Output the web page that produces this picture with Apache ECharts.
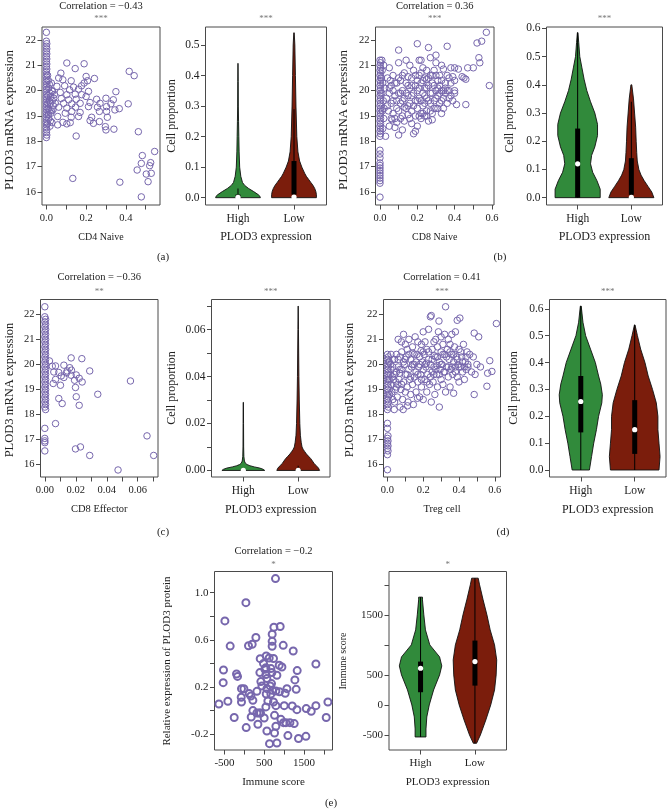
<!DOCTYPE html>
<html><head><meta charset="utf-8">
<script src="https://cdn.jsdelivr.net/npm/echarts@6/dist/echarts.min.js"></script>
<style>html,body{margin:0;padding:0;background:#fff}#c{width:668px;height:809px}</style>
</head><body><div id="c"></div>
<script>
// ---------------- DATA ----------------
const groups = ['High', 'Low'];

const cd4NaivePts = [
[0,22.3],[0,21.95],[0.002,21.85],[0,21.75],[0.002,21.65],[0,21.55],[0.002,21.45],[0,21.35],[0.002,21.25],[0,21.15],[0.002,21.05],[0,20.95],[0.002,20.85],[0,20.75],[0.002,20.65],[0,20.55],[0.002,20.45],[0,20.35],[0.002,20.25],[0,20.15],[0.002,20.05],[0,19.95],[0.002,19.85],[0,19.75],[0.002,19.65],[0,19.55],[0.002,19.45],[0,19.35],[0.002,19.25],[0,19.15],[0.002,19.05],[0,18.95],[0.002,18.85],[0,18.75],[0.002,18.65],[0,18.55],[0.002,18.45],[0,18.35],[0.002,18.25],[0,18.15],
[0.01,20.4],[0.012,20.1],[0.008,19.8],[0.015,19.6],[0.01,19.3],[0.02,19.5],[0.018,19.9],[0.025,19.2],[0.012,18.9],[0.02,18.8],[0.03,19.6],[0.028,20.0],[0.01,19.05],[0.006,18.7],[0.015,20.25],[0.022,19.75],[0.035,19.4],[0.04,19.85],[0.018,18.6],[0.008,19.5],[0.014,19.2],[0.025,20.3],[0.006,20.6],
[0.103,21.09],[0.19,21.06],[0.145,20.87],[0.073,20.69],[0.062,20.5],[0.083,20.43],[0.125,20.39],[0.2,20.56],[0.242,20.48],[0.207,20.39],[0.19,20.3],[0.053,20.17],[0.092,20.19],[0.137,20.14],[0.177,20.19],[0.162,20.06],[0.117,20.03],[0.212,19.97],[0.35,19.96],[0.032,19.97],[0.07,19.93],[0.103,19.84],[0.145,19.86],[0.178,19.84],[0.037,19.7],[0.075,19.69],[0.112,19.64],[0.15,19.66],[0.2,19.77],[0.253,19.66],[0.3,19.7],[0.337,19.64],[0.045,19.5],[0.087,19.5],[0.128,19.48],[0.17,19.5],[0.22,19.53],[0.27,19.5],[0.325,19.48],[0.412,19.48],[0.062,19.35],[0.103,19.31],[0.147,19.35],[0.212,19.37],[0.257,19.35],[0.303,19.37],[0.345,19.24],[0.367,19.29],[0.033,19.24],[0.128,19.18],[0.095,19.11],[0.17,19.14],[0.267,19.18],[0.303,19.18],[0.023,19.11],[0.228,18.95],[0.307,18.95],[0.057,18.98],[0.162,18.98],[0.125,18.95],[0.22,18.82],[0.267,18.78],[0.028,18.74],[0.083,18.75],[0.12,18.74],[0.237,18.71],[0.057,18.65],[0.103,18.69],[0.297,18.58],[0.3,18.45],[0.34,18.48],[0.15,18.21],
[0.417,20.76],[0.442,20.59],[0.463,18.38],[0.483,17.44],[0.525,17.16],[0.478,17.13],[0.52,17.04],[0.545,17.6],[0.457,16.87],[0.503,16.71],[0.528,16.74],[0.512,16.41],[0.37,16.39],[0.478,15.81],[0.133,16.54]
];

const cd8NaivePts = [
[0,21.2],[0.003,21.1],[0,21.0],[0.003,20.9],[0,20.8],[0.003,20.7],[0,20.6],[0.003,20.5],[0,20.4],[0.003,20.3],[0,20.2],[0.003,20.1],[0,20.0],[0.003,19.9],[0,19.8],[0.003,19.7],[0,19.6],[0.003,19.5],[0,19.4],[0.003,19.3],[0,19.2],[0.003,19.1],[0,19.0],[0.003,18.9],[0,18.8],[0.003,18.7],[0,18.6],[0.003,18.5],[0,18.4],[0.003,18.3],[0,18.2],
[0,17.65],[0,17.5],[0,17.35],[0,17.15],[0,17.05],[0,16.95],[0,16.85],[0,16.75],[0,16.65],[0,16.55],[0,16.45],[0,16.35],[0,15.8],
[0.01,21.2],[0.012,20.8],[0.015,20.3],[0.01,19.9],[0.018,19.6],[0.012,19.2],[0.02,18.9],[0.015,18.5],[0.025,20.1],[0.022,19.3],[0.03,18.2],[0.008,20.5],[0.02,21.0],
[0.04,20.5],[0.05,20.9],[0.05,19.9],[0.06,19.5],[0.06,20.2],[0.07,19.1],[0.07,20.6],[0.08,19.8],[0.08,18.9],[0.09,20.3],[0.09,19.3],[0.1,19.9],[0.1,21.6],[0.1,21.1],[0.1,18.25],[0.05,18.6],[0.08,18.55],[0.035,19.7],[0.045,19.2],[0.065,18.85],[0.09,18.75],[0.07,20.0],[0.055,20.4],
[0.11,19.5],[0.11,20.4],[0.12,19.0],[0.12,20.0],[0.12,18.45],[0.13,19.7],[0.13,20.7],[0.14,19.3],[0.14,21.2],[0.14,20.3],[0.15,19.8],[0.15,19.05],[0.16,20.1],[0.16,21.0],[0.16,19.5],[0.17,18.7],[0.17,20.5],[0.17,19.2],[0.18,19.9],[0.18,18.3],[0.18,20.8],[0.19,19.6],[0.19,18.4],[0.19,20.2],[0.2,21.85],[0.2,19.3],[0.2,20.0],[0.2,18.6],[0.13,19.35],[0.15,20.55],[0.11,18.9],
[0.21,21.2],[0.21,20.6],[0.21,19.7],[0.22,21.2],[0.22,19.1],[0.22,20.3],[0.23,19.9],[0.23,20.9],[0.23,19.4],[0.24,20.1],[0.24,19.0],[0.24,20.5],[0.25,19.7],[0.25,20.8],[0.25,19.2],[0.26,21.7],[0.26,20.2],[0.26,18.8],[0.27,21.3],[0.27,19.5],[0.27,20.6],[0.28,19.9],[0.28,19.1],[0.28,20.3],[0.29,20.8],[0.29,19.6],[0.3,21.1],[0.3,21.4],[0.3,20.0],[0.3,19.3],[0.22,18.9],[0.25,20.45],[0.28,18.85],
[0.31,19.8],[0.31,20.4],[0.32,19.5],[0.32,20.6],[0.33,21.0],[0.33,20.0],[0.33,19.1],[0.34,20.85],[0.34,19.7],[0.35,20.3],[0.35,19.9],[0.36,21.75],[0.36,19.5],[0.37,20.5],[0.37,20.0],[0.38,20.9],[0.38,19.8],[0.39,20.55],[0.4,20.9],[0.4,20.0],[0.41,19.45],[0.42,20.85],[0.39,19.6],[0.35,20.1],
[0.04,19.4],[0.05,20.1],[0.06,18.9],[0.07,19.6],[0.08,20.3],[0.09,19.6],[0.1,20.5],[0.1,19.2],[0.11,19.9],[0.12,20.6],[0.12,19.6],[0.13,18.8],[0.14,19.9],[0.15,20.2],[0.15,19.4],[0.16,18.9],[0.17,19.8],[0.17,20.2],[0.18,19.4],[0.19,19.0],[0.19,20.6],[0.2,19.6],[0.2,20.4],[0.21,19.0],[0.21,20.1],[0.22,19.6],[0.22,20.7],[0.23,19.1],[0.23,20.4],[0.24,19.5],[0.24,19.8],[0.25,20.1],[0.25,19.0],[0.26,19.6],[0.26,20.5],[0.27,19.9],[0.27,19.2],[0.28,20.6],[0.29,19.3],[0.29,20.2],[0.3,19.7],[0.3,20.6],[0.31,19.3],[0.31,20.1],[0.32,19.9],[0.32,20.2],[0.33,19.6],[0.33,20.4],[0.34,20.0],[0.34,19.3],[0.36,20.0],[0.36,20.6],[0.37,19.7],[0.38,20.3],[0.4,19.9],[0.4,20.4],
[0.44,20.55],[0.45,20.5],[0.46,20.45],[0.47,20.9],[0.5,20.9],[0.53,21.3],[0.535,21.1],[0.52,21.88],[0.545,21.95],[0.57,22.3],[0.586,20.2],[0.46,19.45]
];

const cd8EffectorPts = [
[0,22.3],[0,21.9],[0.0005,21.8],[0,21.7],[0.0005,21.6],[0,21.5],[0.0005,21.4],[0,21.3],[0.0005,21.2],[0,21.1],[0.0005,21.0],[0,20.9],[0.0005,20.8],[0,20.7],[0.0005,20.6],[0,20.5],[0.0005,20.4],[0,20.3],[0.0005,20.2],[0,20.1],[0.0005,20.0],[0,19.9],[0.0005,19.8],[0,19.7],[0.0005,19.6],[0,19.5],[0.0005,19.4],[0,19.3],[0.0005,19.2],[0,19.1],[0.0005,19.0],[0,18.9],[0.0005,18.8],[0,18.7],[0.0005,18.6],[0,18.5],[0.0005,18.4],[0,18.3],[0.0005,18.2],
[0,17.45],[0,17.05],[0,16.95],[0,16.88],[0,16.55],
[0.003,20.14],[0.0048,19.93],[0.0123,19.97],[0.0161,19.87],[0.0069,19.94],[0.0058,19.7],[0.009,19.68],[0.0106,19.54],[0.0123,19.48],[0.0069,19.4],[0.0054,19.24],[0.0101,19.17],[0.0172,19.77],[0.0144,19.74],[0.017,19.57],[0.0222,19.45],[0.0192,19.37],[0.0241,19.3],[0.0203,19.58],[0.009,18.64],[0.0112,18.44],[0.0069,17.64],[0.017,20.26],[0.0239,20.23],[0.029,19.74],[0.0198,19.08],[0.0203,18.71],[0.0222,18.37],[0.0342,18.81],[0.0553,19.34],[0.0198,16.63],[0.023,16.71],[0.029,16.37],[0.0473,15.79],[0.066,17.15],[0.0703,16.37],[0.014,19.66]
];

const tregPts = [
[0,20.4],[0.005,20.3],[0,20.2],[0.005,20.1],[0,20.0],[0.005,19.9],[0,19.8],[0.005,19.7],[0,19.6],[0.005,19.5],[0,19.4],[0.005,19.3],[0,19.2],[0.005,19.1],[0,19.0],[0.005,18.9],[0,18.8],[0.005,18.7],[0,18.6],[0.005,18.5],[0,18.4],[0.005,18.3],[0,18.2],
[0,17.65],[0,17.45],[0.003,17.15],[0,17.05],[0.003,16.95],[0,16.85],[0.003,16.75],[0,16.65],[0.003,16.55],[0,16.4],[0,15.8],
[0.01,20.1],[0.015,19.6],[0.02,19.2],[0.02,20.4],[0.025,18.9],[0.03,19.9],[0.03,18.6],[0.035,19.4],[0.04,20.2],[0.04,18.5],[0.045,19.0],[0.05,19.7],[0.05,20.4],[0.012,18.8],[0.018,20.0],[0.028,19.5],[0.038,18.2],[0.048,19.3],
[0.055,18.7],[0.06,19.9],[0.06,21.0],[0.065,19.4],[0.07,20.3],[0.07,18.3],[0.075,19.0],[0.08,19.8],[0.08,20.5],[0.085,18.6],[0.09,19.3],[0.09,21.2],[0.095,20.0],[0.1,19.6],[0.1,18.9],[0.1,20.8],[0.058,19.2],[0.078,20.9],[0.088,18.2],[0.068,19.65],
[0.105,20.3],[0.11,19.1],[0.11,20.6],[0.115,18.5],[0.12,19.8],[0.12,21.0],[0.125,19.4],[0.13,20.2],[0.13,18.8],[0.135,19.9],[0.14,20.7],[0.14,19.2],[0.145,18.4],[0.15,20.0],[0.15,19.5],[0.155,21.1],[0.16,19.7],[0.16,18.9],[0.165,20.4],[0.17,19.3],[0.17,20.9],[0.175,19.9],[0.18,18.7],[0.18,20.3],[0.185,19.6],[0.19,20.8],[0.19,19.1],[0.195,20.1],[0.2,19.8],[0.2,18.6],[0.2,21.3],[0.112,18.35],[0.142,20.45],[0.168,18.65],[0.188,20.55],
[0.205,20.4],[0.21,19.4],[0.21,20.9],[0.215,19.9],[0.22,18.9],[0.22,20.6],[0.225,19.6],[0.23,20.2],[0.23,21.4],[0.235,19.2],[0.24,20.0],[0.24,21.9],[0.245,21.95],[0.245,18.5],[0.25,19.7],[0.25,20.6],[0.255,19.3],[0.26,20.9],[0.26,19.9],[0.265,18.8],[0.27,20.3],[0.27,21.0],[0.275,19.6],[0.28,20.7],[0.28,19.1],[0.285,21.3],[0.288,21.73],[0.29,20.1],[0.29,18.3],[0.295,19.8],[0.3,20.5],[0.3,19.4],[0.3,21.1],[0.218,20.05],[0.262,20.35],[0.278,19.95],
[0.305,20.0],[0.31,19.2],[0.31,20.8],[0.315,19.7],[0.32,20.4],[0.32,21.2],[0.325,22.3],[0.325,18.9],[0.33,19.9],[0.335,20.6],[0.34,19.5],[0.34,21.0],[0.345,20.2],[0.35,19.1],[0.35,20.8],[0.355,19.8],[0.36,20.4],[0.36,21.2],[0.365,19.6],[0.37,20.1],[0.37,18.85],[0.375,20.7],[0.38,19.9],[0.38,21.3],[0.385,20.3],[0.39,21.76],[0.39,19.5],[0.395,20.0],[0.4,20.6],[0.4,19.3],[0.405,21.85],[0.41,19.9],[0.415,20.3],[0.42,19.7],[0.425,20.8],[0.43,19.4],[0.435,20.1],[0.44,19.8],[0.445,20.5],[0.45,19.9],
[0.01,19.4],[0.02,19.8],[0.03,20.2],[0.04,19.6],[0.05,19.1],[0.06,20.2],[0.07,19.8],[0.08,19.2],[0.09,20.1],[0.1,20.2],[0.11,19.6],[0.12,20.4],[0.13,19.5],[0.14,20.0],[0.15,20.4],[0.16,20.1],[0.17,19.6],[0.18,20.0],[0.19,19.4],[0.2,20.5],[0.21,20.0],[0.22,19.3],[0.23,20.5],[0.24,19.5],[0.25,20.2],[0.26,19.6],[0.27,19.8],[0.28,20.3],[0.29,19.6],[0.3,20.0],[0.31,20.4],[0.32,19.7],[0.33,20.3],[0.34,19.9],[0.35,20.5],[0.36,19.9],[0.37,20.4],[0.38,19.7],[0.39,20.2],[0.4,19.9],[0.41,20.5],[0.42,20.1],[0.43,19.9],[0.44,20.3],[0.45,20.0],
[0.46,20.4],[0.47,19.7],[0.485,21.25],[0.51,21.1],[0.48,20.3],[0.5,20.0],[0.49,19.6],[0.52,19.9],[0.485,18.8],[0.556,19.13],[0.56,19.65],[0.584,19.72],[0.572,20.15],[0.609,21.63]
];

const immunePts = [
[781,1.119],[38,0.915],[-490,0.76],[-357,0.547],[103,0.55],[196,0.562],[289,0.62],[698,0.647],[741,0.706],[899,0.713],[697,0.587],[697,0.545],[975,0.553],[1226,0.505],[1796,0.395],[397,0.44],[548,0.463],[480,0.40],[623,0.446],[731,0.442],[874,0.384],[942,0.37],[540,0.364],[666,0.356],[691,0.322],[540,0.305],[414,0.246],[565,0.271],[648,0.209],[791,0.166],[882,0.16],[1025,0.147],[1068,0.186],[1301,0.18],[1268,0.26],[1326,0.339],[548,0.141],[565,0.186],[314,0.163],[121,0.144],[-73,0.186],[-13,0.186],[-198,0.31],[-173,0.29],[-525,0.344],[-533,0.237],[-80,0.113],[-73,0.073],[-641,0.056],[-415,0.079],[-256,-0.059],[45,-0.144],[171,-0.054],[213,0.0],[314,-0.02],[339,-0.116],[405,-0.02],[497,-0.063],[540,0.031],[590,0.081],[731,0.073],[791,0.042],[1000,0.042],[1201,0.04],[1319,0.008],[757,-0.04],[917,-0.074],[1042,-0.102],[1143,-0.102],[1251,-0.11],[565,-0.173],[631,-0.28],[816,-0.275],[1093,-0.212],[1359,-0.237],[1545,-0.218],[1553,0.017],[1679,-0.006],[1796,0.042],[2055,-0.059],[2098,0.073],[757,-0.19],[791,-0.133],[983,-0.102],[163,0.124],[213,0.087],[681,0.229],[816,0.3],[440,0.209],[389,0.322],[514,0.35],[706,0.172],[665,0.141],[370,-0.02]
];

// violin density profiles: [value, half-width in group units]
const cd4NaiveHighDens = [[0,0.40],[0.005,0.39],[0.01,0.36],[0.02,0.28],[0.03,0.19],[0.04,0.12],[0.05,0.08],[0.07,0.05],[0.1,0.03],[0.15,0.02],[0.2,0.015],[0.25,0.01],[0.3,0.006],[0.38,0.004],[0.44,0.001]];
const cd4NaiveLowDens = [[0,0.40],[0.01,0.40],[0.02,0.39],[0.03,0.37],[0.04,0.34],[0.05,0.30],[0.06,0.26],[0.07,0.22],[0.08,0.19],[0.1,0.14],[0.12,0.1],[0.15,0.07],[0.2,0.05],[0.3,0.035],[0.4,0.025],[0.5,0.015],[0.54,0.004]];
const cd8NaiveHighDens = [[0,0.42],[0.03,0.42],[0.06,0.36],[0.09,0.28],[0.12,0.24],[0.15,0.26],[0.18,0.32],[0.22,0.37],[0.26,0.37],[0.3,0.32],[0.34,0.24],[0.38,0.17],[0.42,0.12],[0.46,0.08],[0.5,0.04],[0.55,0.02],[0.585,0.005]];
const cd8NaiveLowDens = [[0,0.42],[0.02,0.38],[0.04,0.31],[0.06,0.24],[0.08,0.18],[0.1,0.14],[0.13,0.11],[0.16,0.1],[0.2,0.09],[0.25,0.08],[0.3,0.06],[0.35,0.04],[0.4,0.008]];
const cd8EffHighDens = [[0,0.39],[0.0005,0.36],[0.001,0.3],[0.0015,0.2],[0.002,0.12],[0.0025,0.07],[0.003,0.04],[0.004,0.02],[0.006,0.01],[0.01,0.006],[0.02,0.004],[0.029,0.002]];
const cd8EffLowDens = [[0,0.39],[0.001,0.37],[0.002,0.33],[0.003,0.29],[0.004,0.26],[0.005,0.23],[0.006,0.19],[0.007,0.15],[0.008,0.12],[0.009,0.09],[0.01,0.07],[0.012,0.055],[0.015,0.04],[0.02,0.03],[0.03,0.02],[0.04,0.013],[0.05,0.009],[0.06,0.005],[0.07,0.001]];
const tregHighDens = [[0,0.16],[0.05,0.2],[0.1,0.24],[0.15,0.29],[0.2,0.33],[0.25,0.39],[0.28,0.4],[0.32,0.37],[0.35,0.33],[0.4,0.27],[0.45,0.18],[0.5,0.09],[0.55,0.04],[0.61,0.008]];
const tregLowDens = [[0,0.45],[0.05,0.47],[0.1,0.45],[0.15,0.43],[0.2,0.43],[0.25,0.4],[0.3,0.33],[0.35,0.25],[0.4,0.19],[0.45,0.11],[0.5,0.05],[0.54,0.005]];
const immuneHighDens = [[-533,0.1],[-400,0.1],[-200,0.115],[0,0.16],[250,0.24],[500,0.35],[650,0.39],[800,0.35],[1000,0.17],[1250,0.09],[1500,0.06],[1750,0.035],[1795,0.035]];
const immuneLowDens = [[-638,0.03],[-500,0.1],[-250,0.2],[0,0.29],[250,0.36],[500,0.39],[750,0.4],[1000,0.36],[1250,0.28],[1500,0.22],[1750,0.15],[2000,0.085],[2111,0.06]];

// box stats: [whisker low, Q1, median, Q3, whisker high]
const cd4NaiveHighBox = [0, 0, 0.001, 0.01, 0.03];
const cd4NaiveLowBox = [0, 0.01, 0.002, 0.12, 0.29];
const cd8NaiveHighBox = [0, 0, 0.12, 0.245, 0.585];
const cd8NaiveLowBox = [0, 0.01, 0.001, 0.14, 0.34];
const cd8EffHighBox = [0, 0, 0, 0.0004, 0.001];
const cd8EffLowBox = [0, 0, 0, 0.0008, 0.002];
const tregHighBox = [0, 0.14, 0.255, 0.35, 0.61];
const tregLowBox = [0, 0.06, 0.15, 0.26, 0.54];
const immuneHighBox = [-533, 212, 611, 722, 1795];
const immuneLowBox = [-638, 322, 722, 1072, 2111];

// tick marks and labels
const tk = {
  aSx: [0,0.1,0.2,0.3,0.4,0.5], aSxL: [0,0.2,0.4],
  mrna: [16,17,18,19,20,21,22],
  bSx: [0,0.1,0.2,0.3,0.4,0.5,0.6], bSxL: [0,0.2,0.4,0.6],
  cSx: [0,0.01,0.02,0.03,0.04,0.05,0.06,0.07], cSxL: [0,0.02,0.04,0.06],
  vA: [0,0.1,0.2,0.3,0.4,0.5],
  vB: [0,0.1,0.2,0.3,0.4,0.5,0.6],
  eSx: [-500,0,500,1000,1500,2000], eSxL: [-500,500,1500],
  eSy: [-0.2,0,0.2,0.4,0.6,0.8,1.0], eSyL: [-0.2,0.2,0.6,1.0],
  eVy: [-500,0,500,1000,1500,2000], eVyL: [-500,0,500,1500]
};

// ---------------- STYLE / LAYOUT ----------------
const FONT = 'Liberation Serif';
const PURPLE = '#7767ad';
const GREEN = '#318a3b';
const RED = '#7b1d0c';
const FRAME = '#4a4a4a';

const grids = [
  {left:42, top:27, width:118, height:178},     // 0 a scatter
  {left:205.5, top:27, width:121, height:178},  // 1 a violin
  {left:375.5, top:27, width:118.5, height:178},// 2 b scatter
  {left:546.5, top:27, width:116, height:178},  // 3 b violin
  {left:40.5, top:299.5, width:117.5, height:177.5}, // 4 c scatter
  {left:211.5, top:299.5, width:118.5, height:177.5},// 5 c violin
  {left:383.5, top:299.5, width:117, height:177.5},  // 6 d scatter
  {left:549.5, top:299.5, width:116.5, height:177.5},// 7 d violin
  {left:214.5, top:571.5, width:118, height:178.5},  // 8 e scatter
  {left:389, top:571.5, width:117.5, height:178.5}   // 9 e violin
].map(g => Object.assign({show:true, borderColor:FRAME, borderWidth:1, backgroundColor:'rgba(0,0,0,0)'}, g));

function fmt(dec) {
  return v => (+v).toFixed(dec);
}
function axis(i, dir, min, max, ticks, labels, formatter, fs) {
  return {
    type:'value', gridIndex:i, min:min, max:max, scale:true,
    axisLine:{show:false, onZero:false},
    splitLine:{show:false},
    axisTick:{show:true, inside:false, length:4.5, customValues:ticks, lineStyle:{color:FRAME, width:1}},
    axisLabel:{show:true, customValues:labels, formatter:formatter, margin: dir === 'x' ? 8 : 6,
      fontFamily:FONT, fontSize:fs, color:'#222'}
  };
}
const groupFmt = v => groups[Math.round(v) - 1] || '';
const SF = 10.5, VF = 11.5, EF = 11;
const xAxes = [
  axis(0,'x',-0.022,0.572,tk.aSx,tk.aSxL,fmt(1),SF),
  axis(1,'x',0.42,2.58,[1,2],[1,2],groupFmt,VF),
  axis(2,'x',-0.024,0.611,tk.bSx,tk.bSxL,fmt(1),SF),
  axis(3,'x',0.42,2.58,[1,2],[1,2],groupFmt,VF),
  axis(4,'x',-0.0028,0.0731,tk.cSx,tk.cSxL,fmt(2),SF),
  axis(5,'x',0.42,2.58,[1,2],[1,2],groupFmt,VF),
  axis(6,'x',-0.022,0.632,tk.bSx,tk.bSxL,fmt(1),SF),
  axis(7,'x',0.42,2.58,[1,2],[1,2],groupFmt,VF),
  axis(8,'x',-751,2213,tk.eSx,tk.eSxL,fmt(0),EF),
  axis(9,'x',0.42,2.58,[1,2],[1,2],groupFmt,EF)
];
const yAxes = [
  axis(0,'y',15.49,22.51,tk.mrna,tk.mrna,fmt(0),SF),
  axis(1,'y',-0.024,0.559,tk.vA,tk.vA,fmt(1),VF),
  axis(2,'y',15.49,22.51,tk.mrna,tk.mrna,fmt(0),SF),
  axis(3,'y',-0.026,0.605,tk.vB,tk.vB,fmt(1),VF),
  axis(4,'y',15.51,22.59,tk.mrna,tk.mrna,fmt(0),SF),
  axis(5,'y',-0.0028,0.0728,tk.cSx,tk.cSxL,fmt(2),VF),
  axis(6,'y',15.51,22.59,tk.mrna,tk.mrna,fmt(0),SF),
  axis(7,'y',-0.026,0.6346,tk.vB,tk.vB,fmt(1),VF),
  axis(8,'y',-0.334,1.179,tk.eSy,tk.eSyL,fmt(1),EF),
  axis(9,'y',-750,2222,tk.eVy,tk.eVyL,fmt(0),EF)
];

function scatter(i, data, size, bw) {
  return {type:'scatter', xAxisIndex:i, yAxisIndex:i, data:data, symbol:'circle', symbolSize:size,
    silent:true, animation:false,
    itemStyle:{color:'rgba(0,0,0,0)', borderColor:PURPLE, borderWidth:bw, opacity:1}};
}
function violin(i, pos, dens, box, color) {
  return {
    type:'custom', xAxisIndex:i, yAxisIndex:i, coordinateSystem:'cartesian2d',
    data:[[pos, box[2]]], silent:true, animation:false, clip:false,
    renderItem: function (params, api) {
      const p = api.value(0);
      const left = dens.map(d => api.coord([p - d[1], d[0]]));
      const right = dens.slice().reverse().map(d => api.coord([p + d[1], d[0]]));
      const c = v => api.coord([p, v]);
      const lo = c(box[0]), q1 = c(box[1]), md = c(box[2]), q3 = c(box[3]), hi = c(box[4]);
      return {type:'group', children:[
        {type:'polygon', shape:{points:left.concat(right)}, style:{fill:color, stroke:'#111', lineWidth:0.9}},
        {type:'line', shape:{x1:lo[0], y1:lo[1], x2:hi[0], y2:hi[1]}, style:{stroke:'#000', lineWidth:1}},
        {type:'rect', shape:{x:q1[0]-2.5, y:q3[1], width:5, height:Math.max(q1[1]-q3[1],0.8)}, style:{fill:'#000'}},
        {type:'circle', shape:{cx:md[0], cy:md[1], r:2.6}, style:{fill:'#fff'}}
      ]};
    }
  };
}

const series = [
  scatter(0, cd4NaivePts, 6.5, 1),
  violin(1, 1, cd4NaiveHighDens, cd4NaiveHighBox, GREEN),
  violin(1, 2, cd4NaiveLowDens, cd4NaiveLowBox, RED),
  scatter(2, cd8NaivePts, 6.5, 1),
  violin(3, 1, cd8NaiveHighDens, cd8NaiveHighBox, GREEN),
  violin(3, 2, cd8NaiveLowDens, cd8NaiveLowBox, RED),
  scatter(4, cd8EffectorPts, 6.5, 1),
  violin(5, 1, cd8EffHighDens, cd8EffHighBox, GREEN),
  violin(5, 2, cd8EffLowDens, cd8EffLowBox, RED),
  scatter(6, tregPts, 6.5, 1),
  violin(7, 1, tregHighDens, tregHighBox, GREEN),
  violin(7, 2, tregLowDens, tregLowBox, RED),
  scatter(8, immunePts, 7, 2),
  violin(9, 1, immuneHighDens, immuneHighBox, GREEN),
  violin(9, 2, immuneLowDens, immuneLowBox, RED)
];

// text annotations: [text, x, y, rotated, size, color]
const T = '#222', S = '#777';
const texts = [
  ['Correlation = \u22120.43', 101, 6, false, 10.5, T], ['***', 101, 19, false, 9, S], ['***', 266, 19, false, 9, S],
  ['Correlation = 0.36', 434.75, 6, false, 10.5, T], ['***', 434.75, 19, false, 9, S], ['***', 604.5, 19, false, 9, S],
  ['Correlation = \u22120.36', 99.25, 277.5, false, 10.5, T], ['**', 99.25, 292, false, 9, S], ['***', 270.75, 292, false, 9, S],
  ['Correlation = 0.41', 442, 277.5, false, 10.5, T], ['***', 442, 292, false, 9, S], ['***', 607.75, 292, false, 9, S],
  ['Correlation = \u22120.2', 273.5, 551, false, 10.5, T], ['*', 273.5, 565, false, 9, S], ['*', 447.75, 565, false, 9, S],
  ['CD4 Naive', 101, 237, false, 10, T], ['PLOD3 expression', 266, 237, false, 12, T],
  ['CD8 Naive', 434.75, 237, false, 10, T], ['PLOD3 expression', 604.5, 237, false, 12, T],
  ['CD8 Effector', 99.25, 509.5, false, 10.5, T], ['PLOD3 expression', 270.75, 509.5, false, 12, T],
  ['Treg cell', 442, 509.5, false, 10.5, T], ['PLOD3 expression', 607.75, 509.5, false, 12, T],
  ['Immune score', 273.5, 782.5, false, 11, T], ['PLOD3 expression', 447.75, 782.5, false, 11, T],
  ['PLOD3 mRNA expression', 10, 120, true, 13, T], ['Cell proportion', 172, 116, true, 12, T],
  ['PLOD3 mRNA expression', 343.5, 120, true, 13, T], ['Cell proportion', 510, 116, true, 12, T],
  ['PLOD3 mRNA expression', 9.5, 390, true, 12.5, T], ['Cell proportion', 172, 388, true, 12, T],
  ['PLOD3 mRNA expression', 350, 390, true, 12.5, T], ['Cell proportion', 513.5, 388, true, 12, T],
  ['Relative expression of PLOD3 protein', 167, 661, true, 11, T], ['Immune score', 343.5, 661, true, 10, T],
  ['(a)', 163, 257, false, 11, T], ['(b)', 500, 257, false, 11, T],
  ['(c)', 163, 532, false, 11, T], ['(d)', 503, 532, false, 11, T], ['(e)', 331, 803, false, 11, T]
];
const graphic = texts.map(t => ({
  type:'text', x:t[1], y:t[2], rotation: t[3] ? Math.PI/2 : 0, silent:true,
  style:{text:t[0], align:'center', verticalAlign:'middle', fontFamily:FONT, fontSize:t[4], fill:t[5]}
}));

const chart = echarts.init(document.getElementById('c'), null, {renderer:'canvas'});
chart.setOption({animation:false, backgroundColor:'#fff', grid:grids, xAxis:xAxes, yAxis:yAxes, series:series, graphic:graphic});
</script></body></html>
